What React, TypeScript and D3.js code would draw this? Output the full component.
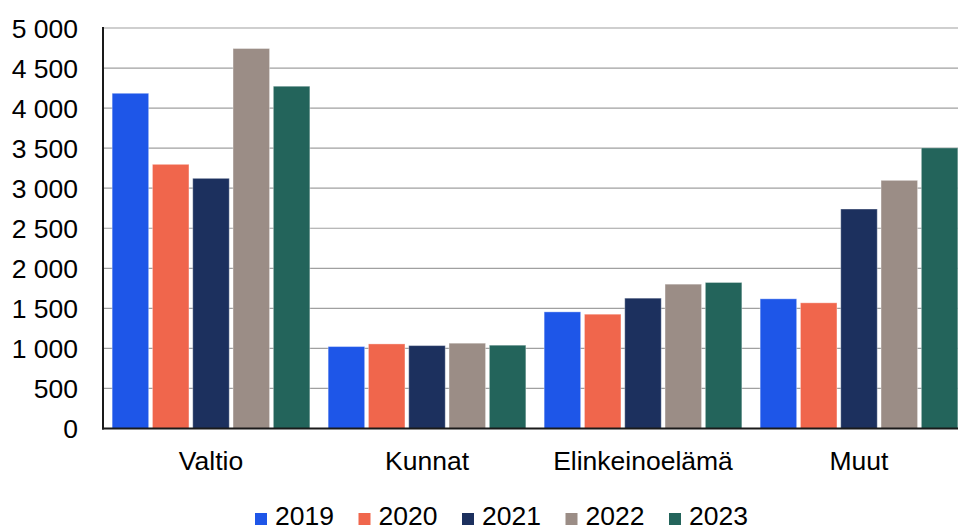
import React from 'react';
import * as d3 from 'd3';

// Chart data
const categories = ['Valtio', 'Kunnat', 'Elinkeinoelämä', 'Muut'];
const years = ['2019', '2020', '2021', '2022', '2023'];
const values2019 = [4185, 1023, 1456, 1619];
const values2020 = [3298, 1056, 1427, 1569];
const values2021 = [3123, 1035, 1627, 2740];
const values2022 = [4744, 1065, 1802, 3098];
const values2023 = [4273, 1040, 1823, 3503];
const yTicks = [0, 500, 1000, 1500, 2000, 2500, 3000, 3500, 4000, 4500, 5000];

const seriesValues = [values2019, values2020, values2021, values2022, values2023];
const colors = ['#1e56e8', '#f0664c', '#1c305e', '#9b8d86', '#23645b'];

const width = 958;
const height = 531;
const left = 103;
const top = 28;
const bottom = 428.5;
const groupStep = 216;

const fmt = (v: number) => d3.format(',')(v).replace(/,/g, ' ');

export default function App() {
  const x0 = d3.scaleBand<string>()
    .domain(categories)
    .range([left, left + groupStep * categories.length])
    .padding(0);

  const x1 = d3.scaleBand<string>()
    .domain(years)
    .range([0, x0.bandwidth()])
    .paddingInner(0.094)
    .paddingOuter(0.227);

  const y = d3.scaleLinear().domain([0, 5000]).range([bottom, top]);

  const font = '"Liberation Sans", Arial, sans-serif';
  const fs = 26.5;

  return (
    <svg
      width={width}
      height={height}
      style={{ position: 'absolute', left: 0, top: 0, background: '#fff' }}
      fontFamily={font}
    >
      {/* gridlines */}
      {yTicks.filter(t => t > 0).map(t => (
        <line key={t} x1={left} x2={width} y1={y(t)} y2={y(t)} stroke="#a0a0a0" strokeWidth={1.2} />
      ))}

      {/* bars */}
      {categories.map((c, ci) => (
        <g key={c} transform={`translate(${x0(c)},0)`}>
          {years.map((yr, si) => {
            const v = seriesValues[si][ci];
            return (
              <rect
                key={yr}
                x={x1(yr)}
                y={y(v)}
                width={x1.bandwidth()}
                height={bottom - y(v)}
                fill={colors[si]}
                stroke="#ffffff"
                strokeOpacity={0.35}
                strokeWidth={1}
              />
            );
          })}
        </g>
      ))}

      {/* axes */}
      <line x1={left} x2={left} y1={top - 1} y2={bottom + 1} stroke="#1a1a1a" strokeWidth={2} />
      <line x1={left - 1} x2={width} y1={bottom} y2={bottom} stroke="#1a1a1a" strokeWidth={2} />

      {/* y tick labels */}
      {yTicks.map(t => (
        <text
          key={t}
          x={78}
          y={y(t)}
          dy="0.36em"
          textAnchor="end"
          fontSize={fs}
          fill="#000"
        >
          {fmt(t)}
        </text>
      ))}

      {/* category labels */}
      {categories.map(c => (
        <text
          key={c}
          x={(x0(c) ?? 0) + x0.bandwidth() / 2}
          y={469.5}
          textAnchor="middle"
          fontSize={fs}
          fill="#000"
        >
          {c}
        </text>
      ))}

      {/* legend */}
      {years.map((yr, i) => (
        <g key={yr} transform={`translate(${255 + i * 103.5},0)`}>
          <rect x={0} y={513} width={12} height={12} fill={colors[i]} />
          <text x={20} y={525} fontSize={fs} fill="#000">{yr}</text>
        </g>
      ))}
    </svg>
  );
}
